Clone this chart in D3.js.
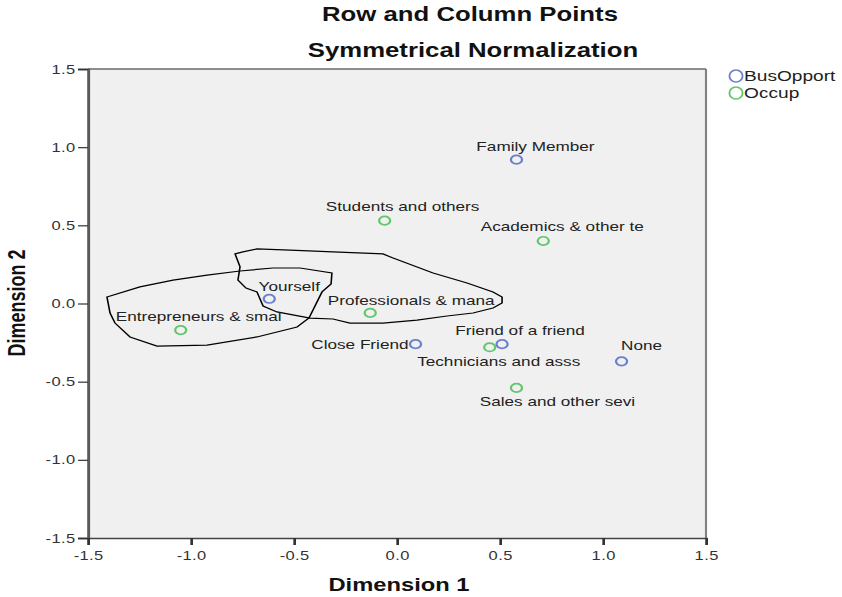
<!DOCTYPE html>
<html>
<head>
<meta charset="utf-8">
<script src="https://cdn.jsdelivr.net/npm/d3@7"></script>
<style>
  body { margin: 0; background: #fff; }
  svg { display: block; font-family: "Liberation Sans", Arial, sans-serif; }
</style>
</head>
<body>
<div id="chart"></div>
<script>
// row points (BusOpport)
const busLabels = ["Family Member", "Yourself", "Close Friend", "Friend of a friend", "None"];
const busDim1 = [0.58, -0.62, 0.09, 0.51, 1.09];
const busDim2 = [0.92, 0.03, -0.26, -0.26, -0.37];

// column points (Occup)
const occLabels = ["Students and others", "Academics & other te", "Entrepreneurs & smal",
  "Professionals & mana", "Technicians and asss", "Sales and other sevi"];
const occDim1 = [-0.06, 0.71, -1.05, -0.13, 0.45, 0.58];
const occDim2 = [0.53, 0.40, -0.17, -0.06, -0.28, -0.54];

const tickValues = [-1.5, -1.0, -0.5, 0.0, 0.5, 1.0, 1.5];
const seriesNames = ["BusOpport", "Occup"];

// hand drawn loops on the picture, in dimension units
const loopA = [[-1.408, 0.042], [-1.248, 0.106], [-1.087, 0.150], [-0.922, 0.182], [-0.762, 0.208],
  [-0.602, 0.227], [-0.471, 0.227], [-0.316, 0.195], [-0.320, 0.125], [-0.364, 0.074],
  [-0.398, -0.016], [-0.427, -0.093], [-0.485, -0.150], [-0.680, -0.214], [-0.922, -0.266],
  [-1.165, -0.272], [-1.296, -0.214], [-1.369, -0.125], [-1.393, -0.061]];
const loopB = [[-0.786, 0.317], [-0.748, 0.330], [-0.680, 0.349], [-0.519, 0.342], [-0.311, 0.330],
  [-0.068, 0.317], [-0.019, 0.291], [0.175, 0.195], [0.340, 0.131], [0.466, 0.074],
  [0.510, 0.042], [0.510, 0.003], [0.466, -0.029], [0.369, -0.061], [0.243, -0.080],
  [0.097, -0.106], [-0.068, -0.125], [-0.228, -0.125], [-0.311, -0.099], [-0.422, -0.093],
  [-0.583, -0.054], [-0.650, -0.016], [-0.680, 0.074], [-0.733, 0.099], [-0.772, 0.150],
  [-0.762, 0.234]];

// label placement (dx, dy in px, anchor)
const labelPlace = {
  "Family Member": [19, -9, "middle"],
  "Yourself": [20, -8, "middle"],
  "Close Friend": [-7, 4.5, "end"],
  "Friend of a friend": [18, -9.5, "middle"],
  "None": [20, -11.5, "middle"],
  "Students and others": [18, -9.5, "middle"],
  "Academics & other te": [19, -9.5, "middle"],
  "Entrepreneurs & smal": [18, -9.5, "middle"],
  "Professionals & mana": [41, -7.5, "middle"],
  "Technicians and asss": [9, 18.5, "middle"],
  "Sales and other sevi": [41, 18.5, "middle"]
};

const colors = { BusOpport: "#6b80cc", Occup: "#62c66c" };

// the picture is stretched horizontally, so lay out in narrower space
const sx = 1.32;
const W = 842, H = 597, VW = W / sx;
const plot = { left: 88 / sx, right: 706 / sx, top: 69, bottom: 538 };

const svg = d3.select("#chart").append("svg")
  .attr("width", W).attr("height", H)
  .attr("viewBox", `0 0 ${VW} ${H}`)
  .attr("preserveAspectRatio", "none");

const x = d3.scaleLinear().domain([-1.5, 1.5]).range([plot.left, plot.right]);
const y = d3.scaleLinear().domain([-1.5, 1.5]).range([plot.bottom, plot.top]);

// background
svg.append("rect")
  .attr("x", plot.left).attr("y", plot.top)
  .attr("width", plot.right - plot.left).attr("height", plot.bottom - plot.top)
  .attr("fill", "#f0f0f0");

// frame
svg.append("line").attr("x1", plot.left).attr("x2", plot.right).attr("y1", plot.top).attr("y2", plot.top)
  .attr("stroke", "#6a6a6a").attr("stroke-width", 1.6);
svg.append("line").attr("x1", plot.right).attr("x2", plot.right).attr("y1", plot.top).attr("y2", plot.bottom)
  .attr("stroke", "#808080").attr("stroke-width", 1.6);

const fmt = (d) => d.toFixed(1);

// y axis
const yAxis = svg.append("g")
  .attr("transform", `translate(${plot.left},0)`)
  .call(d3.axisLeft(y).tickValues(tickValues).tickFormat(fmt).tickSize(10 / sx).tickPadding(2.5 / sx));
yAxis.select(".domain").attr("stroke", "#5a5a5a").attr("stroke-width", 2.2);
yAxis.selectAll(".tick line").attr("stroke", "#333").attr("stroke-width", 1.2);
yAxis.selectAll(".tick text")
  .attr("font-size", 12.5).attr("fill", "#333").attr("letter-spacing", 0.3)
  .attr("font-family", "'Liberation Sans', Arial, sans-serif");

// x axis
const xAxis = svg.append("g")
  .attr("transform", `translate(0,${plot.bottom})`)
  .call(d3.axisBottom(x).tickValues(tickValues).tickFormat(fmt).tickSize(7).tickPadding(6));
xAxis.select(".domain").attr("stroke", "#444").attr("stroke-width", 1.6);
xAxis.selectAll(".tick line").attr("stroke", "#333").attr("stroke-width", 2);
xAxis.selectAll(".tick text")
  .attr("font-size", 12.5).attr("fill", "#333").attr("letter-spacing", 0.3)
  .attr("font-family", "'Liberation Sans', Arial, sans-serif");

// hand drawn loops
const line = d3.line().x((d) => x(d[0])).y((d) => y(d[1])).curve(d3.curveLinearClosed);
svg.selectAll("path.loop")
  .data([loopA, loopB])
  .join("path")
  .attr("class", "loop")
  .attr("d", line)
  .attr("fill", "none")
  .attr("stroke", "#000")
  .attr("stroke-width", 1.2);

// points
const points = [
  ...busLabels.map((l, i) => ({ label: l, d1: busDim1[i], d2: busDim2[i], s: "BusOpport" })),
  ...occLabels.map((l, i) => ({ label: l, d1: occDim1[i], d2: occDim2[i], s: "Occup" }))
];

svg.append("g").selectAll("circle")
  .data(points)
  .join("circle")
  .attr("cx", (d) => x(d.d1))
  .attr("cy", (d) => y(d.d2))
  .attr("r", 4.2)
  .attr("fill", "none")
  .attr("stroke", (d) => colors[d.s])
  .attr("stroke-width", 1.7);

svg.append("g").selectAll("text")
  .data(points)
  .join("text")
  .attr("x", (d) => x(d.d1) + labelPlace[d.label][0] / sx)
  .attr("y", (d) => y(d.d2) + labelPlace[d.label][1])
  .attr("text-anchor", (d) => labelPlace[d.label][2])
  .attr("font-size", 13)
  .attr("fill", "#222")
  .text((d) => d.label);

// titles
svg.append("text")
  .attr("x", 470 / sx).attr("y", 21)
  .attr("text-anchor", "middle").attr("font-size", 19.5).attr("font-weight", "bold")
  .attr("fill", "#111")
  .text("Row and Column Points");
svg.append("text")
  .attr("x", 473 / sx).attr("y", 57)
  .attr("text-anchor", "middle").attr("font-size", 19.5).attr("font-weight", "bold")
  .attr("fill", "#111")
  .text("Symmetrical Normalization");

svg.append("text")
  .attr("x", 399 / sx).attr("y", 591)
  .attr("text-anchor", "middle").attr("font-size", 18).attr("font-weight", "bold")
  .attr("fill", "#111")
  .text("Dimension 1");
svg.append("text")
  .attr("transform", `translate(${25 / sx},303) rotate(-90)`)
  .attr("text-anchor", "middle").attr("font-size", 18).attr("font-weight", "bold")
  .attr("fill", "#111")
  .text("Dimension 2");

// legend
const legend = svg.append("g").selectAll("g")
  .data(seriesNames)
  .join("g")
  .attr("transform", (d, i) => `translate(${736 / sx},${76 + i * 17})`);
legend.append("ellipse")
  .attr("rx", 5).attr("ry", 6)
  .attr("fill", "none")
  .attr("stroke", (d) => colors[d])
  .attr("stroke-width", 1.4);
legend.append("text")
  .attr("x", 8 / sx).attr("y", 5)
  .attr("font-size", 14.5)
  .attr("fill", "#222")
  .text((d) => d);
</script>
</body>
</html>
